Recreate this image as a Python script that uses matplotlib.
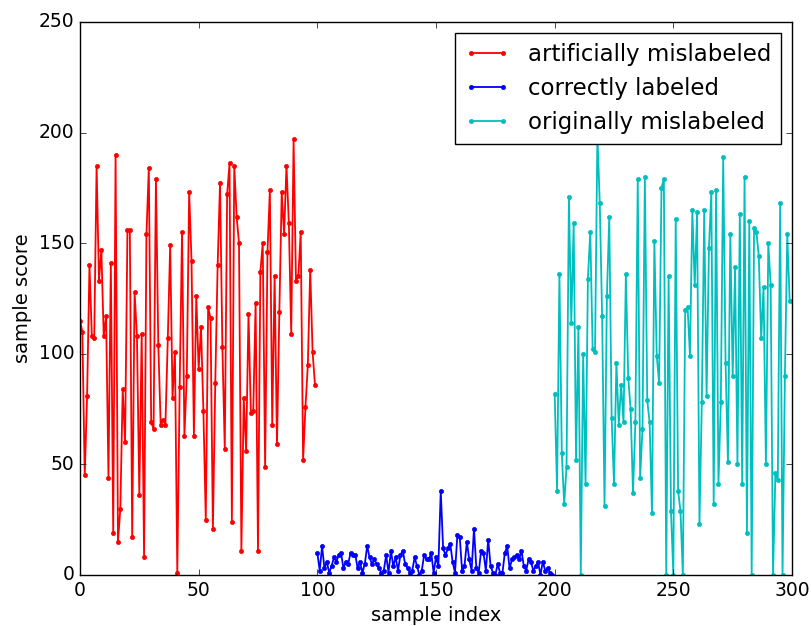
import matplotlib
matplotlib.use('Agg')
import numpy as np
import matplotlib.pyplot as plt

# scores of the three groups of samples, in index order
artificial_scores = [
    115, 110, 45, 81, 140, 108, 107, 185, 133, 147,
    108, 117, 44, 141, 19, 190, 15, 30, 84, 60,
    156, 156, 17, 128, 108, 36, 109, 8, 154, 184,
    69, 66, 179, 104, 68, 70, 68, 107, 149, 80,
    101, 1, 85, 155, 63, 90, 173, 142, 63, 126,
    93, 112, 74, 25, 121, 116, 21, 87, 140, 177,
    103, 57, 172, 186, 24, 185, 162, 150, 11, 80,
    56, 118, 73, 74, 123, 11, 137, 150, 49, 146,
    174, 68, 135, 59, 119, 173, 154, 185, 159, 109,
    197, 133, 135, 155, 52, 76, 95, 138, 101, 86,
]
correct_scores = [
    10, 2, 13, 3, 6, 1, 4, 8, 6, 9,
    10, 3, 6, 5, 10, 9, 9, 3, 6, 1,
    5, 13, 8, 5, 7, 5, 3, 1, 2, 9,
    1, 11, 4, 8, 2, 9, 11, 5, 3, 1,
    2, 8, 4, 0, 2, 9, 7, 7, 10, 1,
    8, 4, 38, 12, 9, 12, 14, 6, 1, 18,
    17, 2, 4, 15, 7, 2, 21, 3, 1, 11,
    10, 2, 16, 4, 1, 0, 5, 1, 1, 10,
    13, 3, 7, 8, 9, 7, 11, 4, 2, 7,
    6, 2, 4, 6, 0, 6, 2, 3, 1, 0,
]
original_scores = [
    82, 38, 136, 55, 32, 49, 171, 114, 159, 52,
    112, 0, 100, 41, 134, 155, 102, 101, 199, 168,
    117, 31, 126, 162, 71, 41, 96, 68, 86, 69,
    136, 89, 75, 37, 69, 179, 44, 66, 180, 79,
    69, 28, 151, 99, 87, 175, 179, 0, 135, 29,
    0, 161, 38, 29, 0, 120, 121, 99, 165, 131,
    164, 23, 78, 165, 81, 148, 173, 32, 174, 41,
    78, 189, 96, 51, 154, 90, 139, 50, 163, 41,
    180, 19, 160, 0, 157, 155, 144, 107, 130, 50,
    150, 131, 0, 46, 43, 168, 0, 90, 154, 124,
]

groups = [
    ('artificially mislabeled', artificial_scores, 'r.-'),
    ('correctly labeled', correct_scores, 'b.-'),
    ('originally mislabeled', original_scores, 'c.-'),
]


def main():
    plt.style.use('classic')
    fig = plt.figure(figsize=(8.12, 6.26), dpi=100)
    ax = fig.add_subplot(111)
    fig.subplots_adjust(left=0.0985, right=0.9754, top=0.965, bottom=0.0815)

    start = 0
    for label, scores, fmt in groups:
        idx = np.arange(start, start + len(scores))
        ax.plot(idx, scores, fmt, label=label, linewidth=1.3)
        start += len(scores)

    ax.set_xlim(0, 300)
    ax.set_ylim(0, 250)
    ax.set_xlabel('sample index', fontsize=14)
    ax.set_ylabel('sample score', fontsize=14)
    ax.tick_params(labelsize=13.5)
    ax.legend(loc='upper right', fontsize=16.5)

    fig.savefig('out.png', dpi=100)


if __name__ == "__main__":
    main()
